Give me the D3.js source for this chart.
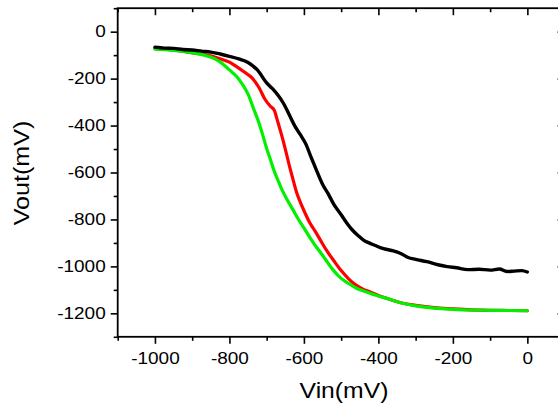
<!DOCTYPE html>
<html><head><meta charset="utf-8">
<script src="https://cdn.jsdelivr.net/npm/d3@7"></script>
<style>
html,body{margin:0;padding:0;background:#fff;}
svg{display:block;}
text{font-family:"Liberation Sans",Arial,sans-serif;fill:#000;}
</style></head>
<body><svg id="c" width="558" height="410"></svg>
<script>
const xMajor = [-1000,-800,-600,-400,-200,0];
const xMinor = [-1100,-900,-700,-500,-300,-100,100];
const yMajor = [0,-200,-400,-600,-800,-1000,-1200];
const yMinor = [100,-100,-300,-500,-700,-900,-1100,-1300];
const xTitle = "Vin(mV)";
const yTitle = "Vout(mV)";

const blackX = [-1000,-975,-950,-925,-900,-875,-850,-825,-800,-775,-750,-725,-700,-685,-670,-655,-640,-625,-610,-595,-580,-565,-550,-535,-520,-500,-485,-470,-455,-440,-425,-410,-395,-380,-360,-340,-320,-300,-270,-240,-215,-190,-160,-130,-100,-75,-55,-35,-15,0];
const blackY = [-66,-70,-71,-76,-78,-83,-87,-95,-105,-116,-131,-163,-218,-242,-270,-305,-352,-400,-438,-478,-538,-595,-650,-690,-735,-780,-815,-845,-868,-888,-900,-910,-920,-927,-934,-945,-962,-970,-980,-993,-1001,-1006,-1014,-1012,-1016,-1011,-1022,-1020,-1018,-1024];

const redX = [-1000,-950,-900,-860,-830,-800,-780,-760,-740,-720,-705,-690,-680,-670,-660,-650,-640,-630,-620,-610,-600,-585,-570,-555,-540,-520,-500,-480,-460,-440,-420,-400,-370,-340,-300,-250,-200,-150,-100,-50,0];
const redY = [-71,-78,-90,-100,-113,-130,-150,-172,-196,-240,-287,-318,-334,-385,-440,-500,-565,-625,-683,-725,-762,-812,-850,-890,-930,-975,-1018,-1053,-1080,-1098,-1110,-1124,-1140,-1155,-1166,-1176,-1181,-1185,-1187,-1188,-1189];

const greenX = [-1000,-950,-900,-870,-840,-820,-800,-780,-765,-750,-735,-720,-710,-700,-690,-680,-670,-660,-645,-630,-615,-600,-585,-570,-555,-540,-530,-520,-510,-500,-480,-460,-440,-420,-400,-370,-340,-300,-250,-200,-150,-100,-50,0];
const greenY = [-75,-80,-90,-99,-115,-135,-163,-192,-225,-266,-329,-392,-443,-498,-545,-593,-632,-670,-716,-757,-799,-836,-874,-910,-942,-975,-998,-1018,-1036,-1051,-1073,-1092,-1105,-1116,-1126,-1140,-1155,-1168,-1178,-1183,-1186,-1187,-1188,-1189];

const svg = d3.select("#c");
const x = d3.scaleLinear().domain([-1100,100]).range([117.7,564.6]);
const y = d3.scaleLinear().domain([100,-1300]).range([8.2,336.8]);
const SX = 1.15;
const fmt = d => String(d);

function styleAxis(g){
  g.select(".domain").remove();
  g.selectAll(".tick line").attr("stroke","#000").attr("stroke-width",1.6);
}
// left axis
const gl = svg.append("g").attr("transform",`translate(${x(-1100)},0)`);
gl.call(d3.axisLeft(y).tickValues(yMajor).tickSize(7).tickPadding(5).tickFormat(fmt)).call(styleAxis);
gl.selectAll("text").attr("font-size",16.5).attr("font-family","Liberation Sans, Arial, sans-serif").attr("transform",`scale(${SX},1)`).attr("x",-12/SX);
svg.append("g").attr("transform",`translate(${x(-1100)},0)`).call(d3.axisLeft(y).tickValues(yMinor).tickSize(4).tickFormat("")).call(styleAxis);
// right axis (inward)
svg.append("g").attr("transform",`translate(${x(100)},0)`).call(d3.axisLeft(y).tickValues(yMajor).tickSize(7).tickFormat("")).call(styleAxis);
svg.append("g").attr("transform",`translate(${x(100)},0)`).call(d3.axisLeft(y).tickValues(yMinor).tickSize(4).tickFormat("")).call(styleAxis);
// bottom axis
const gb = svg.append("g").attr("transform",`translate(0,${y(-1300)})`);
gb.call(d3.axisBottom(x).tickValues(xMajor).tickSize(7).tickPadding(8).tickFormat(fmt)).call(styleAxis);
gb.selectAll("text").attr("font-size",16.5).attr("font-family","Liberation Sans, Arial, sans-serif").attr("transform",`scale(${SX},1)`);
svg.append("g").attr("transform",`translate(0,${y(-1300)})`).call(d3.axisBottom(x).tickValues(xMinor).tickSize(4).tickFormat("")).call(styleAxis);
// top axis (inward)
svg.append("g").attr("transform",`translate(0,${y(100)})`).call(d3.axisBottom(x).tickValues(xMajor).tickSize(7).tickFormat("")).call(styleAxis);
svg.append("g").attr("transform",`translate(0,${y(100)})`).call(d3.axisBottom(x).tickValues(xMinor).tickSize(4).tickFormat("")).call(styleAxis);

// frame
svg.append("rect").attr("x",x(-1100)).attr("y",y(100)).attr("width",x(100)-x(-1100)).attr("height",y(-1300)-y(100))
  .attr("fill","none").attr("stroke","#000").attr("stroke-width",1.8);

const line = d3.line().curve(d3.curveMonotoneX).x(d=>x(d[0])).y(d=>y(d[1]));
const series = [
  {xs:redX, ys:redY, color:"#ff0000", w:3.2},
  {xs:greenX, ys:greenY, color:"#00f000", w:3.2},
  {xs:blackX, ys:blackY, color:"#000000", w:3.4}
];
series.forEach(s=>{
  svg.append("path").datum(s.xs.map((v,i)=>[v,s.ys[i]]))
    .attr("d",line).attr("fill","none").attr("stroke",s.color)
    .attr("stroke-width",s.w).attr("stroke-linejoin","round").attr("stroke-linecap","round");
});

// titles
svg.append("text").attr("transform",`translate(344,398) scale(1.15,1)`)
  .attr("text-anchor","middle").attr("font-size",21.5).text(xTitle);
svg.append("text").attr("transform",`translate(29,173) rotate(-90) scale(1.17,1)`)
  .attr("text-anchor","middle").attr("font-size",21.5).text(yTitle);
</script></body></html>
